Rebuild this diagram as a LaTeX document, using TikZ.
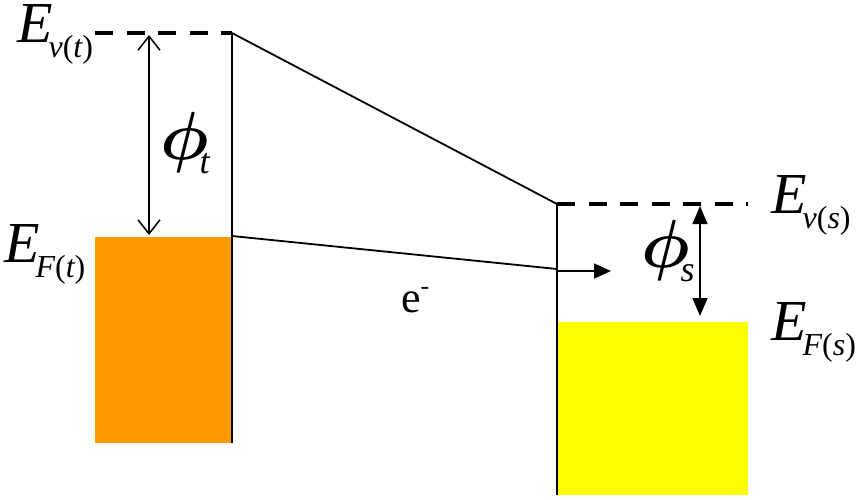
\RequirePackage{fix-cm}
\documentclass[tikz,border=0pt]{standalone}
\usepackage{fontspec}
\setmainfont{Liberation Serif}
\usetikzlibrary{arrows.meta}
\definecolor{orangefill}{HTML}{FF9900}
\definecolor{yellowfill}{HTML}{FFFF00}
\newcommand{\Elab}[1]{{\fontsize{58}{58}\selectfont\itshape E}\kern-4pt\raisebox{-15pt}{\fontsize{32}{32}\selectfont #1}}
\newcommand{\philab}[1]{{\fontsize{68}{68}\selectfont\boldmath$\phi$}\kern-9pt\raisebox{-14pt}{\fontsize{36}{36}\selectfont\itshape #1}}
\tikzset{
  level/.style={line width=3.5pt, dash pattern=on 18pt off 13.5pt},
  wall/.style={line width=1.8pt},
  openarrow/.style={line width=1.5pt, {Straight Barb[length=14pt,width=22pt,line width=1.5pt]}-{Straight Barb[length=14pt,width=22pt,line width=1.5pt]}},
  fillarrow/.style={line width=1.5pt, {Triangle[length=18pt,width=15pt]}-{Triangle[length=18pt,width=15pt]}},
  lbl/.style={inner sep=0pt, anchor=base west}
}
\begin{document}
\begin{tikzpicture}[x=1pt,y=-1pt]
\useasboundingbox (0,0) rectangle (864,499);
% fills
\fill[orangefill] (95,237) rectangle (232,443);
\fill[yellowfill] (557,322) rectangle (748,495);
% coordinates
\coordinate (tl) at (95,33);
\coordinate (tt) at (232,33);
\coordinate (tb) at (232,443);
\coordinate (tf) at (232,236);
\coordinate (st) at (557,204);
\coordinate (sb) at (557,495);
\coordinate (sr) at (748,204);
\coordinate (se) at (557,269);
\coordinate (as) at (557,271);
\coordinate (ae) at (611,271);
\coordinate (a1) at (149,35);
\coordinate (a2) at (149,235);
\coordinate (b1) at (700,206);
\coordinate (b2) at (700,316);
% levels
\draw[level] (tl) -- (tt);
\draw[level] (st) -- (sr);
% walls
\draw[wall] (tt) -- (tb);
\draw[wall] (st) -- (sb);
\draw[wall] (tt) -- (st);
\draw[wall] (tf) -- (se);
\draw[line width=1.5pt, -{Triangle[length=17pt,width=15pt]}] (as) -- (ae);
% work function arrows
\draw[openarrow] (a1) -- (a2);
\draw[fillarrow] (b1) -- (b2);
% labels
\node[lbl] (Evt) at (17,42) {\Elab{\itshape v\upshape(\itshape t\upshape)}};
\node[lbl] (EFt) at (4,262) {\Elab{\itshape F\upshape(\itshape t\upshape)}};
\node[lbl] (Evs) at (771,213) {\Elab{\itshape v\upshape(\itshape s\upshape)}};
\node[lbl] (EFs) at (771,340) {\Elab{\itshape F\upshape(\itshape s\upshape)}};
\node[lbl] (phit) at (160,159) {\philab{t}};
\node[lbl] (phis) at (641,267) {\philab{s}};
\node[lbl] (el) at (401,312) {{\fontsize{44}{44}\selectfont e}\raisebox{18pt}{\fontsize{26}{26}\selectfont -}};
\end{tikzpicture}
\end{document}
